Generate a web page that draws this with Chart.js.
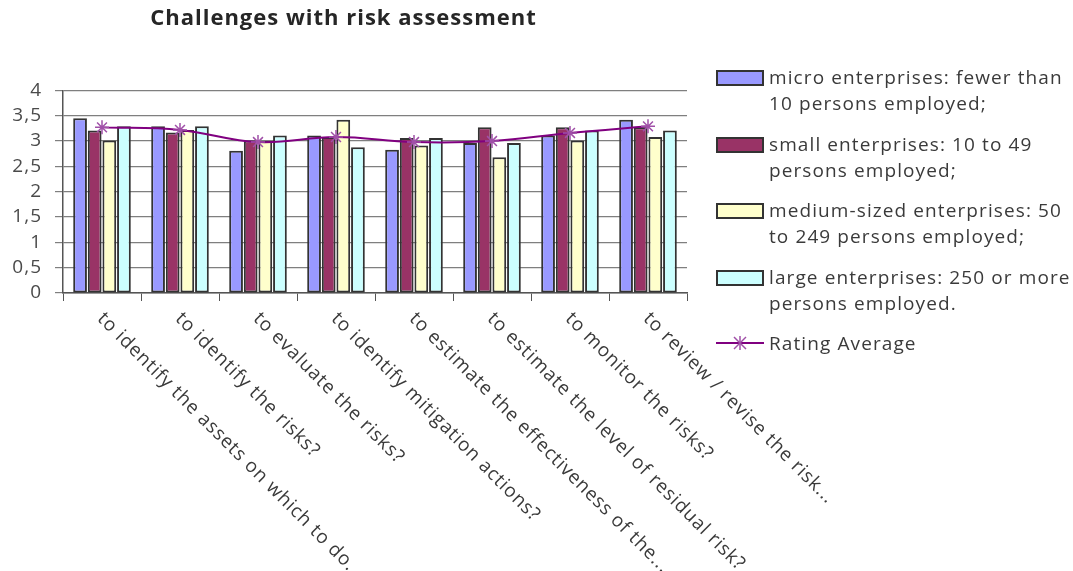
<!DOCTYPE html>
<html>
<head>
<meta charset="utf-8">
<script src="https://cdn.jsdelivr.net/npm/chart.js@4"></script>
<style>
  body { margin: 0; background: #fff; }
  #wrap { position: relative; width: 1073px; height: 571px; }
  #legend { position: absolute; left: 716px; top: 64px; font-family: "Open Sans", sans-serif; font-size: 19px; letter-spacing: 1.1px; color: #3a3a3a; line-height: 26px; }
  .item { display: flex; align-items: flex-start; margin-bottom: 14.5px; white-space: nowrap; }
  .sw { width: 44px; height: 12px; border: 2px solid #333; margin-top: 6px; margin-right: 5px; flex: none; }
  .ln { width: 48px; height: 26px; margin-right: 5px; flex: none; }
</style>
</head>
<body>
<div id="wrap">
  <canvas id="riskChart" width="1073" height="571"></canvas>
  <div id="legend"></div>
</div>
<script>
const categories = [
  "to identify the assets on which to do...",
  "to identify the risks?",
  "to evaluate the risks?",
  "to identify mitigation actions?",
  "to estimate the effectiveness of the...",
  "to estimate the level of residual risk?",
  "to monitor the risks?",
  "to review / revise the risk..."
];
const microValues = [3.45, 3.29, 2.81, 3.11, 2.83, 2.96, 3.11, 3.42];
const smallValues = [3.21, 3.17, 3.01, 3.08, 3.06, 3.27, 3.27, 3.27];
const mediumValues = [3.01, 3.22, 3.0, 3.42, 2.91, 2.68, 3.01, 3.08];
const largeValues = [3.29, 3.29, 3.11, 2.88, 3.06, 2.96, 3.21, 3.21];
const averageValues = [3.27, 3.22, 2.98, 3.08, 2.98, 3.0, 3.16, 3.29];
const legendLines = [
  ["micro enterprises: fewer than", "10 persons employed;"],
  ["small enterprises: 10 to 49", "persons employed;"],
  ["medium-sized enterprises: 50", "to 249 persons employed;"],
  ["large enterprises: 250 or more", "persons employed."],
  ["Rating Average"]
];

const textColor = "#3a3a3a";
const barBorder = "#333333";

function barSet(label, data, color) {
  return {
    type: "bar",
    label: label,
    data: data,
    backgroundColor: color,
    borderColor: barBorder,
    borderWidth: 2,
    borderSkipped: false,
    barPercentage: 0.94,
    categoryPercentage: 0.75,
    order: 1
  };
}

// the original text is set a bit wide, so space the letters out a little
const wideText = {
  id: "wideText",
  beforeLayout(chart) { chart.ctx.letterSpacing = "1px"; },
  beforeDraw(chart) { chart.ctx.letterSpacing = "1px"; }
};

// x labels run down to the right, which Chart.js can't rotate natively
const slantedLabels = {
  id: "slantedLabels",
  afterDraw(chart) {
    const xs = chart.scales.x;
    const c = chart.ctx;
    c.save();
    c.letterSpacing = "0.85px";
    c.font = '19px "Open Sans", sans-serif';
    c.fillStyle = textColor;
    c.textAlign = "left";
    c.textBaseline = "top";
    categories.forEach((lab, i) => {
      const x = xs.getPixelForValue(i);
      c.save();
      c.translate(x + 5, xs.top + 16);
      c.rotate(Math.PI / 4);
      c.fillText(lab, 0, 0);
      c.restore();
    });
    c.restore();
  }
};

const ctx = document.getElementById("riskChart");

const riskChart = new Chart(ctx, {
  data: {
    labels: categories,
    datasets: [
      barSet(legendLines[0].join(" "), microValues, "#9999FF"),
      barSet(legendLines[1].join(" "), smallValues, "#993366"),
      barSet(legendLines[2].join(" "), mediumValues, "#FFFFCC"),
      barSet(legendLines[3].join(" "), largeValues, "#CCFFFF"),
      {
        type: "line",
        label: "Rating Average",
        data: averageValues,
        borderColor: "#800080",
        borderWidth: 2,
        tension: 0.4,
        pointStyle: "star",
        pointRadius: 7,
        pointBorderColor: "#a050a8",
        pointBorderWidth: 1.5,
        pointBackgroundColor: "#a050a8",
        order: 0
      }
    ]
  },
  options: {
    responsive: false,
    animation: false,
    layout: {
      padding: { left: 0, right: 386, top: 6, bottom: 270 }
    },
    plugins: {
      legend: { display: false },
      tooltip: { enabled: false },
      title: {
        display: true,
        text: "Challenges with risk assessment",
        color: "#262626",
        font: { family: "Open Sans", size: 22, weight: "bold" },
        padding: { top: 0, bottom: 58 }
      }
    },
    scales: {
      x: {
        ticks: { display: false },
        border: { color: "#555", width: 1.5 },
        grid: {
          offset: true,
          drawOnChartArea: false,
          drawTicks: true,
          tickLength: 8,
          color: "#555"
        }
      },
      y: {
        min: 0,
        max: 4,
        afterFit: scale => { scale.width = 63; },
        ticks: {
          stepSize: 0.5,
          autoSkip: false,
          color: "#4a4a4a",
          padding: 13,
          font: { family: "Open Sans", size: 19, lineHeight: 1 },
          callback: v => String(v).replace(".", ",")
        },
        border: { color: "#555", width: 1.5 },
        grid: {
          color: "#7f7f7f",
          lineWidth: 1.2,
          tickLength: 8
        }
      }
    }
  },
  plugins: [wideText, slantedLabels]
});

// html legend beside the chart
const legendEl = document.getElementById("legend");
riskChart.data.datasets.forEach((ds, i) => {
  const item = document.createElement("div");
  item.className = "item";
  if (ds.type === "bar") {
    const sw = document.createElement("div");
    sw.className = "sw";
    sw.style.background = ds.backgroundColor;
    item.appendChild(sw);
  } else {
    item.insertAdjacentHTML("beforeend",
      '<svg class="ln" viewBox="0 0 48 26"><line x1="0" y1="13" x2="48" y2="13" stroke="#800080" stroke-width="2"/>' +
      '<g stroke="#a050a8" stroke-width="1.5"><line x1="18" y1="7" x2="30" y2="19"/><line x1="30" y1="7" x2="18" y2="19"/><line x1="24" y1="6" x2="24" y2="20"/></g></svg>');
  }
  const txt = document.createElement("div");
  txt.innerHTML = legendLines[i].join("<br>");
  item.appendChild(txt);
  legendEl.appendChild(item);
});
</script>
</body>
</html>
